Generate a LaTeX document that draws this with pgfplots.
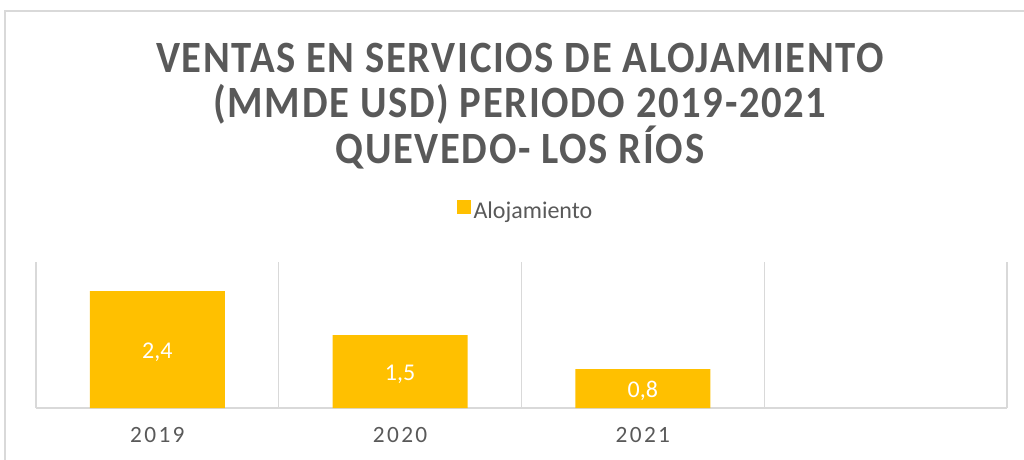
\documentclass[border=0pt]{standalone}
\usepackage{pgfplots}
\pgfplotsset{compat=1.18}
\usepackage{fontspec}
\setmainfont{Carlito}
\newfontfamily\titlefont[LetterSpace=4]{Carlito}
\newfontfamily\tickfont[LetterSpace=10]{Carlito}

\definecolor{bargold}{HTML}{FFC000}
\definecolor{txtgray}{HTML}{595959}
\definecolor{gridgray}{HTML}{D9D9D9}

\begin{document}
\begin{tikzpicture}
% page frame: 1024x460 px at 0.75pt per px, origin at the plot's lower left
\path[use as bounding box] (-27pt,-39pt) rectangle (741pt,306pt);
\draw[gridgray, line width=1pt] (-23.25pt,-39pt) -- (-23.25pt,297.75pt) -- (741pt,297.75pt);

\begin{axis}[
    at={(0pt,0pt)}, anchor=south west,
    width=728.25pt, height=109.5pt, scale only axis,
    xmin=-0.5, xmax=3.5, ymin=0, ymax=3,
    axis x line*=bottom, axis y line=none,
    x axis line style={-, gridgray, line width=1pt},
    xtick={0,1,2}, xticklabels={2019,2020,2021},
    minor xtick={-0.5,0.5,1.5,2.5,3.5},
    xminorgrids,
    minor x grid style={gridgray, line width=1pt},
    major tick length=0pt, minor tick length=0pt,
    ytick=\empty,
    xticklabel style={font=\tickfont\fontsize{17.5}{20}\selectfont, text=txtgray, yshift=-11pt},
    /pgf/number format/.cd, use comma, fixed, precision=1, fixed zerofill, assume math mode=true,
    /pgfplots/.cd,
    legend style={at={(0.5046,1.349)}, anchor=center, draw=none, fill=none,
        font=\fontsize{18}{21}\selectfont, text=txtgray},
    legend image code/.code={\fill[bargold] (0pt,-2.5pt) rectangle (10.5pt,8pt);},
]
\addplot[ybar, fill=bargold, draw=none, bar width=0.556,
    nodes near coords,
    visualization depends on={y \as \rawy},
    every node near coord/.append style={anchor=center, text=white,
        font=\fontsize{18}{21}\selectfont, yshift=-2pt,
        shift={(axis direction cs:0,-0.5*\rawy)}},
] coordinates {(0,2.4) (1,1.5) (2,0.8)};
\addlegendentry{Alojamiento}
\end{axis}

\node[font=\titlefont\bfseries\fontsize{30.5}{30.9}\selectfont, text=txtgray, align=center,
    yscale=1.1, transform shape]
    at (363pt,226.5pt) {VENTAS EN SERVICIOS DE ALOJAMIENTO\\(MMDE USD) PERIODO 2019-2021\\QUEVEDO- LOS RÍOS};
\end{tikzpicture}
\end{document}
